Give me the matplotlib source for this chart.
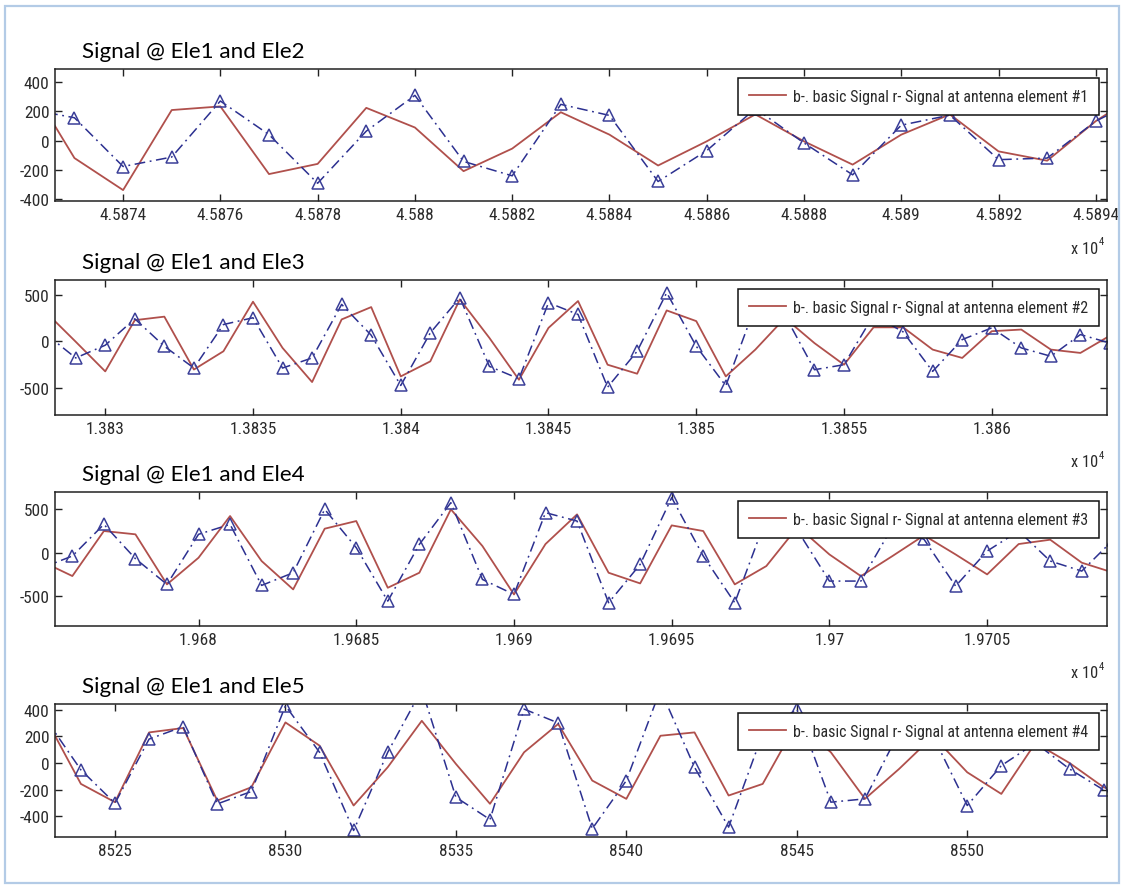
import numpy as np
import matplotlib
matplotlib.use("Agg")
import matplotlib.pyplot as plt
from matplotlib.patches import Rectangle
from matplotlib import font_manager
from matplotlib.font_manager import FontProperties
from matplotlib.textpath import TextToPath

# ---------------- data ----------------
titles = ["Signal @ Ele1 and Ele2", "Signal @ Ele1 and Ele3",
          "Signal @ Ele1 and Ele4", "Signal @ Ele1 and Ele5"]
legend_labels = ["b-. basic Signal r- Signal at antenna element #1",
                 "b-. basic Signal r- Signal at antenna element #2",
                 "b-. basic Signal r- Signal at antenna element #3",
                 "b-. basic Signal r- Signal at antenna element #4"]

# panel 1 (samples 45872 ... 45895)
p1_start = 45872
p1_red = [430, -120, -340, 210, 235, -230, -160, 225, 90, -210, -55, 195,
          41, -171, -5, 180, -5, -165, 41, 180, -74, -138, 134, 350]
p1_blue = [220, 157, -178, -113, 272, 41, -293, 65, 311, -143, -242, 249,
           173, -281, -69, 220, -16, -235, 106, 175, -131, -120, 134, 300]

# panel 2 (samples 13828 ... 13864)
p2_start = 13828
p2_red = [310, -5, -325, 227, 265, -305, -108, 426, -72, -440, 235, 368,
          -379, -217, 451, 36, -415, 144, 433, -253, -350, 332, 217, -379,
          -90, 250, -20, -253, 150, 150, -90, -180, 108, 126, -90, -126, 60]
p2_blue = [75, -180, -43, 242, -54, -289, 180, 253, -289, -180, 397, 65,
           -477, 90, 469, -271, -404, 415, 289, -495, -108, 523, -54, -480,
           380, 280, -307, -253, 280, 101, -325, 18, 144, -72, -162, 72, -20]

# panel 3 (samples 19675 ... 19709)
p3_start = 19675
p3_red = [-95, -269, 250, 212, -365, -58, 423, -96, -423, 277, 365, -404,
          -231, 500, 77, -481, 100, 442, -231, -354, 315, 250, -365, -154,
          300, -20, -270, -38, 200, -20, -250, 100, 150, -115, -230]
p3_blue = [-180, -38, 327, -69, -365, 212, 327, -377, -231, 500, 58, -558,
           96, 577, -308, -481, 462, 365, -577, -135, 635, -38, -577, 400,
           250, -327, -327, 300, 154, -385, 19, 250, -96, -212, 150]

# panel 4 (samples 8523 ... 8555)
p4_start = 8523
p4_red = [318, -157, -294, 229, 262, -282, -182, 304, 130, -319, -32, 316,
          -7, -306, 80, 292, -132, -269, 204, 229, -244, -157, 300, 80,
          -269, -45, 200, -70, -232, 150, 0, -182, -250]
p4_blue = [318, -52, -302, 179, 272, -307, -214, 429, 80, -506, 80, 550,
           -257, -424, 404, 300, -493, -132, 550, -32, -481, 220, 404, -294,
           -269, 230, 200, -319, -20, 150, -45, -202, -100]

xlims = [(45872.6, 45894.23), (13828.3, 13863.9), (19675.45, 19708.8), (8523.24, 8554.1)]
ylims = [(-415, 492), (-795, 660), (-845, 700), (-555, 442)]

xticks = [[45874, 45876, 45878, 45880, 45882, 45884, 45886, 45888, 45890, 45892, 45894],
          [13830, 13835, 13840, 13845, 13850, 13855, 13860],
          [19680, 19685, 19690, 19695, 19700, 19705],
          [8525, 8530, 8535, 8540, 8545, 8550]]
xticklabels = [["4.5874", "4.5876", "4.5878", "4.588", "4.5882", "4.5884", "4.5886",
                "4.5888", "4.589", "4.5892", "4.5894"],
               ["1.383", "1.3835", "1.384", "1.3845", "1.385", "1.3855", "1.386"],
               ["1.968", "1.9685", "1.969", "1.9695", "1.97", "1.9705"],
               ["8525", "8530", "8535", "8540", "8545", "8550"]]
yticks = [[-400, -200, 0, 200, 400], [-500, 0, 500], [-500, 0, 500],
          [-400, -200, 0, 200, 400]]
yticklabels = [["-400", "-200", "0", "200", "400"], ["-500", "0", "500"],
               ["-500", "0", "500"], ["-400", "-200", "0", "200", "400"]]
show_multiplier = [True, True, True, False]

panels = [(p1_start, p1_red, p1_blue), (p2_start, p2_red, p2_blue),
          (p3_start, p3_red, p3_blue), (p4_start, p4_red, p4_blue)]

# ---------------- fonts ----------------
entries = font_manager.fontManager.ttflist
names = {f.name for f in entries}


def pick_narrow():
    for nm in ["Liberation Sans Narrow", "Arial Narrow", "Roboto Condensed",
               "Open Sans Condensed", "DejaVu Sans Condensed"]:
        if nm in names:
            return FontProperties(family=nm)
    for nm in ["DejaVu Sans", "Open Sans", "Roboto", "Noto Sans"]:
        for f in entries:
            if f.name == nm and str(f.stretch) in ("condensed", "semi-condensed", "600", "500"):
                return FontProperties(fname=f.fname)
    return FontProperties(family="Liberation Sans" if "Liberation Sans" in names else "DejaVu Sans")


narrow_fp = pick_narrow()
title_family = "Lato" if "Lato" in names else ("Open Sans" if "Open Sans" in names else "DejaVu Sans")
ttp = TextToPath()


def size_for_width(text, fp, target_px):
    p = fp.copy()
    p.set_size(10)
    w, h, d = ttp.get_text_width_height_descent(text, p, ismath=False)
    return 10 * (target_px * 0.72) / w


tick_size = min(14.5, size_for_width("4.5874", narrow_fp, 47))
leg_size = min(14.5, size_for_width(legend_labels[0], narrow_fp, 298))
tfp = FontProperties(family=title_family)
title_size = size_for_width(titles[0], tfp, 222)


def fp_at(size):
    p = narrow_fp.copy()
    p.set_size(size)
    return p


RED = "#b0504c"
BLUE = "#2c3090"
TXT = "#2a2a2a"

W, H = 1123, 887
fig = plt.figure(figsize=(W / 100, H / 100), dpi=100)
fig.patch.set_facecolor("white")

# outer light-blue frame
fig.add_artist(Rectangle((5 / W, 1 - 884 / H), (1119 - 5) / W, (884 - 7) / H,
                         transform=fig.transFigure, fill=False,
                         edgecolor="#b3cbe6", linewidth=1.6))

left_px, right_px = 55, 1107
boxes = [(70, 202), (281, 416), (493, 627), (705, 838)]

for i, (top, bot) in enumerate(boxes):
    ax = fig.add_axes([left_px / W, 1 - bot / H, (right_px - left_px) / W, (bot - top) / H])
    start, red, blue = panels[i]
    xr = np.arange(start, start + len(red))
    xb = np.arange(start, start + len(blue))
    lr, = ax.plot(xr, red, color=RED, lw=1.3)
    ax.plot(xb, blue, color=BLUE, lw=1.1, linestyle=(0, (7, 3, 1.2, 3)),
            marker="^", markersize=8.5, markerfacecolor="none",
            markeredgecolor="#3b3f98", markeredgewidth=1.1)
    ax.set_xlim(*xlims[i])
    ax.set_ylim(*ylims[i])
    ax.set_xticks(xticks[i])
    ax.set_xticklabels(xticklabels[i])
    ax.set_yticks(yticks[i])
    ax.set_yticklabels(yticklabels[i])
    ax.tick_params(direction="in", length=5, width=1.0, top=True, right=True,
                   colors="#222222", labelcolor=TXT, pad=4)
    for lab in ax.get_xticklabels() + ax.get_yticklabels():
        lab.set_fontproperties(fp_at(tick_size))
    for sp in ax.spines.values():
        sp.set_color("#222222")
        sp.set_linewidth(1.1)
    ax.text(27 / 1052, 1 + 12 / (bot - top), titles[i], transform=ax.transAxes,
            ha="left", va="baseline", fontsize=title_size, family=title_family,
            color="#000000")
    leg = ax.legend([lr], [legend_labels[i]], loc="upper right",
                    bbox_to_anchor=(1 - 8 / 1052, 1 - 9 / (bot - top)),
                    borderaxespad=0, fancybox=False, framealpha=1,
                    edgecolor="#111111", handlelength=2.3, handletextpad=0.45,
                    borderpad=0.68, prop=fp_at(leg_size))
    leg.get_frame().set_linewidth(1.1)
    for t in leg.get_texts():
        t.set_color(TXT)
    if show_multiplier[i]:
        ax.text(1 - 9 / 1052, -47 / (bot - top), "x 10", transform=ax.transAxes,
                ha="right", va="center", fontproperties=fp_at(tick_size * 0.95),
                color=TXT)
        ax.text(1 - 3 / 1052, -40 / (bot - top), "4", transform=ax.transAxes,
                ha="right", va="center", fontproperties=fp_at(tick_size * 0.62),
                color=TXT)

fig.savefig("out.png", dpi=100, facecolor="white")
